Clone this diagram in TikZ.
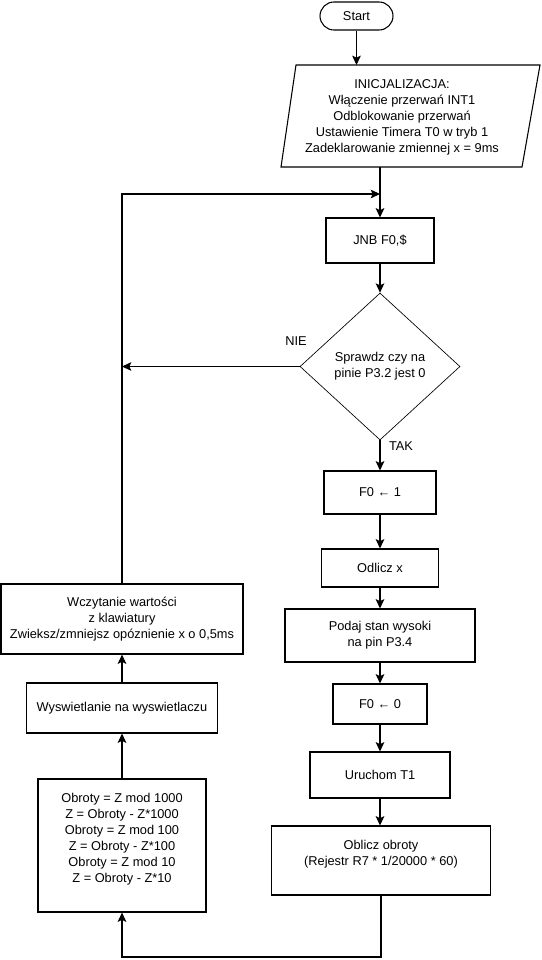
\documentclass[tikz,border=0pt]{standalone}
\usepackage{fontspec}
\setmainfont{Liberation Sans}
\usetikzlibrary{arrows.meta,shapes.geometric}

\begin{document}
\begin{tikzpicture}[x=0.75pt,y=-0.75pt,
    font=\fontsize{9.6}{12}\selectfont,
    blok/.style={draw,line width=0.8pt,align=center,inner sep=0pt},
    arr/.style={-{Stealth[length=7pt,width=6.5pt,inset=1.5pt]},line width=0.8pt},
    lin/.style={line width=0.8pt}]
  \useasboundingbox (0,0) rectangle (542,960);
  \node[blok,rounded corners=10.5pt,minimum width=54.75pt,minimum height=21pt] (start) at (356.5,16) {Start};
  \draw[lin] (296,65) -- (540,65) -- (522,167) -- (281,167) -- cycle;
  \node[align=center] (init) at (402,117) {INICJALIZACJA:\\Włączenie przerwań INT1\\Odblokowanie przerwań\\Ustawienie Timera T0 w tryb 1\\Zadeklarowanie zmiennej x = 9ms};
  \coordinate (initin) at (356.5,65);
  \coordinate (initout) at (380,167);
  \coordinate (merge) at (380,194);
  \node[blok,minimum width=81pt,minimum height=33.75pt] (jnb) at (380,240.5) {JNB F0,\$};
  \node[blok,diamond,line width=0.5pt,minimum width=120pt,minimum height=110.25pt] (chk) at (380,366.5) {Sprawdz czy na\\pinie P3.2 jest 0};
  \node (nie) at (296,341) {NIE};
  \node (tak) at (401,446) {TAK};
  \node[blok,minimum width=84pt,minimum height=32.25pt] (f01) at (380,492.5) {F0 ← 1};
  \node[blok,minimum width=87.75pt,minimum height=28.5pt] (odl) at (380,568) {Odlicz x};
  \node[blok,minimum width=142.5pt,minimum height=39.75pt] (podaj) at (380,635.5) {Podaj stan wysoki\\na pin P3.4};
  \node[blok,minimum width=70.5pt,minimum height=30pt] (f00) at (380,704) {F0 ← 0};
  \node[blok,minimum width=105pt,minimum height=34.5pt] (uruch) at (380,775) {Uruchom T1};
  \node[blok,minimum width=164.25pt,minimum height=51.75pt] (obl) at (381,860.5) {Oblicz obroty\\(Rejestr R7 * 1/20000 * 60)\\~};
  \node[blok,minimum width=181.5pt,minimum height=52.5pt] (wcz) at (122,619) {Wczytanie wartości\\z klawiatury\\Zwieksz/zmniejsz opóznienie x o 0,5ms};
  \node[blok,minimum width=143.25pt,minimum height=37.5pt] (wysw) at (122,708) {Wyswietlanie na wyswietlaczu};
  \node[blok,minimum width=126pt,minimum height=99.75pt] (obr) at (122,845.5) {Obroty = Z mod 1000\\Z = Obroty - Z*1000\\Obroty = Z mod 100\\Z = Obroty - Z*100\\Obroty = Z mod 10\\Z = Obroty - Z*10\\~};
  \draw[arr] (start) -- (initin);
  \draw[lin] (initout) -- (merge);
  \draw[arr] (merge) -- (jnb);
  \draw[arr] (jnb) -- (chk);
  \draw[arr] (chk) -- (f01);
  \draw[arr] (f01) -- (odl);
  \draw[arr] (odl) -- (podaj);
  \draw[arr] (podaj) -- (f00);
  \draw[arr] (f00) -- (uruch);
  \draw[arr] (uruch) -- (uruch |- obl.north);
  \draw[arr] (chk.west) -- (chk.west -| wcz.north);
  \draw[arr] (wcz.north) |- (merge);
  \draw[arr] (obl) -- (obl |- 0,957) -| (obr);
  \draw[arr] (obr) -- (wysw);
  \draw[arr] (wysw) -- (wcz);
\end{tikzpicture}
\end{document}
